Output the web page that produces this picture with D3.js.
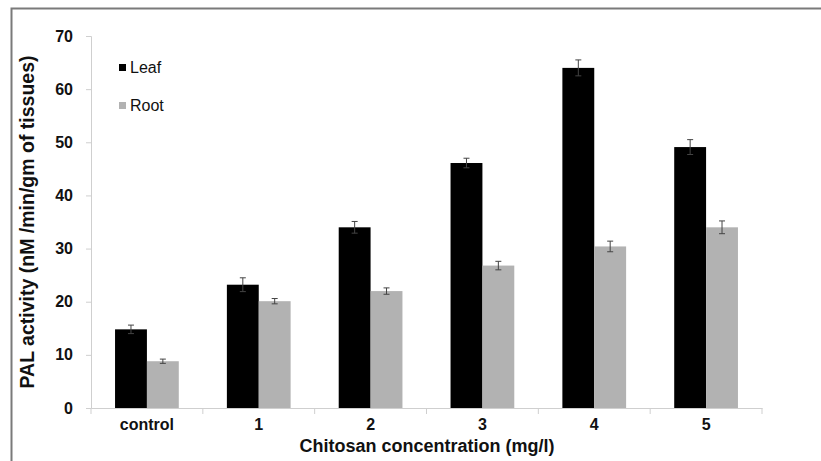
<!DOCTYPE html>
<html>
<head>
<meta charset="utf-8">
<script src="https://cdn.jsdelivr.net/npm/d3@7"></script>
<style>
  body { margin: 0; background: #fff; }
  svg { display: block; font-family: "Liberation Sans", Arial, sans-serif; }
</style>
</head>
<body>
<div id="chart"></div>
<script>
// data
const categories = ["control", "1", "2", "3", "4", "5"];
const leafValues = [14.8, 23.2, 34.0, 46.1, 64.0, 49.1];
const leafErrors = [0.8, 1.3, 1.1, 0.9, 1.5, 1.4];
const rootValues = [8.8, 20.1, 22.0, 26.8, 30.4, 34.0];
const rootErrors = [0.4, 0.5, 0.6, 0.8, 1.0, 1.2];
const yTicks = [0, 10, 20, 30, 40, 50, 60, 70];

const width = 821, height = 461;
const margin = {top: 36, right: 59, bottom: 53, left: 91};

const svg = d3.select("#chart").append("svg")
    .attr("width", width)
    .attr("height", height);

// outer frame (only top/left visible in the picture)
svg.append("path")
    .attr("d", `M11.5,${height} V8.5 H${width}`)
    .attr("fill", "none")
    .attr("stroke", "#7a7a7a")
    .attr("stroke-width", 2);

const x = d3.scaleBand()
    .domain(categories)
    .range([margin.left, width - margin.right])
    .paddingInner(0)
    .paddingOuter(0);

const y = d3.scaleLinear()
    .domain([0, 70])
    .range([height - margin.bottom, margin.top]);

const series = [
    {name: "Leaf", values: leafValues, errors: leafErrors, color: "#000000"},
    {name: "Root", values: rootValues, errors: rootErrors, color: "#b2b2b2"}
];

const barW = x.bandwidth() * 0.285;
const xs = d3.scaleBand()
    .domain(series.map(s => s.name))
    .range([x.bandwidth() / 2 - barW, x.bandwidth() / 2 + barW]);

// y axis
const yAxis = svg.append("g")
    .attr("transform", `translate(${margin.left},0)`)
    .call(d3.axisLeft(y).tickValues(yTicks).tickSize(5).tickPadding(13));
yAxis.select(".domain").attr("stroke", "#cfcfcf");
yAxis.selectAll(".tick line").attr("stroke", "#cfcfcf");
yAxis.selectAll("text")
    .attr("font-size", 16).attr("font-weight", "bold").attr("fill", "#111")
    .attr("font-family", "Liberation Sans, Arial, sans-serif");

// x axis
const xAxis = svg.append("g")
    .attr("transform", `translate(0,${y(0)})`)
    .call(d3.axisBottom(x).tickSize(0).tickPadding(11));
xAxis.select(".domain").attr("stroke", "#cfcfcf");
xAxis.selectAll("text")
    .attr("font-size", 16).attr("font-weight", "bold").attr("fill", "#111")
    .attr("font-family", "Liberation Sans, Arial, sans-serif");

// category separators on the x axis
const bounds = categories.map(c => x(c)).concat([x(categories[categories.length - 1]) + x.bandwidth()]);
svg.append("g").selectAll("line")
    .data(bounds)
    .enter().append("line")
    .attr("x1", d => d).attr("x2", d => d)
    .attr("y1", y(0)).attr("y2", y(0) + 6)
    .attr("stroke", "#cfcfcf");

// bars
const groups = svg.append("g")
    .selectAll("g")
    .data(categories)
    .enter().append("g")
    .attr("transform", d => `translate(${x(d)},0)`);

series.forEach(s => {
    groups.append("rect")
        .attr("x", xs(s.name))
        .attr("width", xs.bandwidth())
        .attr("y", (d, i) => y(s.values[i]))
        .attr("height", (d, i) => y(0) - y(s.values[i]))
        .attr("fill", s.color);

    // error bars
    const cx = xs(s.name) + xs.bandwidth() / 2;
    const err = groups.append("g").attr("stroke", "#444").attr("stroke-width", 1);
    err.append("line")
        .attr("x1", cx).attr("x2", cx)
        .attr("y1", (d, i) => y(s.values[i] - s.errors[i]))
        .attr("y2", (d, i) => y(s.values[i] + s.errors[i]));
    err.append("line")
        .attr("x1", cx - 3).attr("x2", cx + 3)
        .attr("y1", (d, i) => y(s.values[i] + s.errors[i]))
        .attr("y2", (d, i) => y(s.values[i] + s.errors[i]));
    err.append("line")
        .attr("x1", cx - 3).attr("x2", cx + 3)
        .attr("y1", (d, i) => y(s.values[i] - s.errors[i]))
        .attr("y2", (d, i) => y(s.values[i] - s.errors[i]));
});

// legend
const legend = svg.append("g")
    .selectAll("g")
    .data(series)
    .enter().append("g")
    .attr("transform", (d, i) => `translate(119,${68 + i * 38})`);
legend.append("rect")
    .attr("x", 0).attr("y", -4)
    .attr("width", 7).attr("height", 7)
    .attr("fill", d => d.color);
legend.append("text")
    .attr("x", 11).attr("y", 5)
    .attr("font-size", 16)
    .attr("fill", "#111")
    .text(d => d.name);

// axis titles
svg.append("text")
    .attr("x", 427)
    .attr("y", 452)
    .attr("text-anchor", "middle")
    .attr("font-size", 18).attr("font-weight", "bold").attr("fill", "#111")
    .text("Chitosan concentration (mg/l)");

svg.append("text")
    .attr("transform", `translate(34,${222}) rotate(-90)`)
    .attr("text-anchor", "middle")
    .attr("font-size", 19.5).attr("font-weight", "bold").attr("fill", "#111")
    .text("PAL activity (nM /min/gm of tissues)");
</script>
</body>
</html>
